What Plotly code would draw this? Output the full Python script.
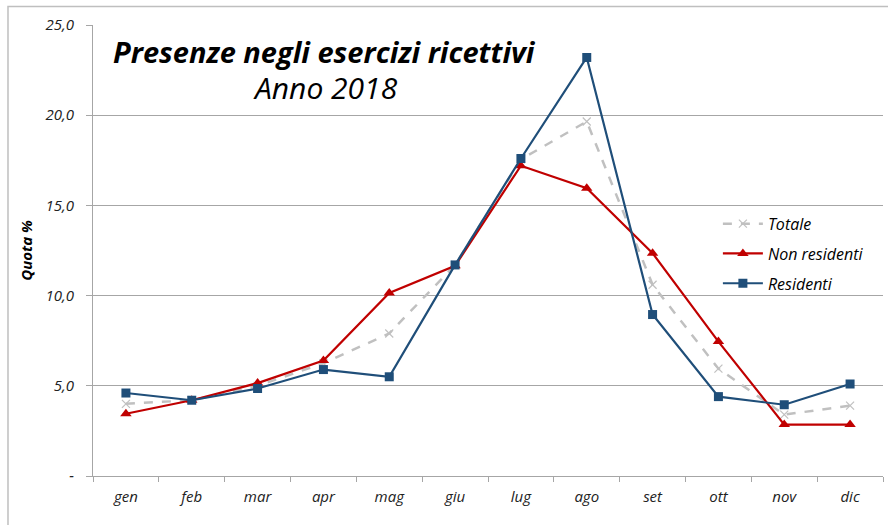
import plotly.graph_objects as go

months = ["gen", "feb", "mar", "apr", "mag", "giu", "lug", "ago", "set", "ott", "nov", "dic"]
totale = [4.0, 4.2, 5.0, 6.25, 7.9, 11.7, 17.55, 19.65, 10.6, 5.95, 3.4, 3.9]
non_residenti = [3.45, 4.2, 5.15, 6.4, 10.15, 11.65, 17.2, 15.95, 12.35, 7.45, 2.85, 2.85]
residenti = [4.6, 4.2, 4.85, 5.9, 5.5, 11.7, 17.6, 23.2, 8.95, 4.4, 3.95, 5.1]

y_tickvals = [0, 5, 10, 15, 20, 25]
y_ticktext = ["-", "5,0", "10,0", "15,0", "20,0", "25,0"]

FONT = "Open Sans"
GRID = "#a6a6a6"

fig = go.Figure()
fig.add_trace(go.Scatter(
    x=months, y=totale, name="Totale", mode="lines+markers", legendgroup="t",
    line=dict(color="#c0c0c0", width=2.5, dash="dash"),
    marker=dict(symbol="x-thin", size=8, line=dict(color="#c0c0c0", width=1.2)),
))
fig.add_trace(go.Scatter(
    x=months, y=non_residenti, name="Non residenti", mode="lines+markers", legendgroup="n",
    line=dict(color="#c00000", width=2.2),
    marker=dict(symbol="triangle-up", size=10, color="#c00000"),
))
fig.add_trace(go.Scatter(
    x=months, y=residenti, name="Residenti", mode="lines+markers", legendgroup="r",
    line=dict(color="#1f4e79", width=2.2),
    marker=dict(symbol="square", size=9, color="#1f4e79"),
))

fig.update_layout(
    width=888, height=525,
    margin=dict(l=93, r=5, t=25, b=49),
    paper_bgcolor="white", plot_bgcolor="white",
    font=dict(family=FONT, color="#000000"),
    showlegend=True,
    legend=dict(
        x=0.791, y=0.597, xanchor="left", yanchor="top",
        font=dict(family=FONT, size=16, style="italic"),
        bgcolor="rgba(255,255,255,0)", tracegroupgap=6,
        itemwidth=40,
    ),
    xaxis=dict(
        type="category", range=[-0.5, 11.5],
        tickson="boundaries", ticks="outside", ticklen=5, tickcolor=GRID,
        showline=True, linecolor=GRID, linewidth=1,
        showgrid=False, ticklabelstandoff=7,
        tickfont=dict(family=FONT, size=15, style="italic", color="#222222"),
    ),
    yaxis=dict(
        range=[0, 25], tickvals=y_tickvals, ticktext=y_ticktext,
        ticks="outside", ticklen=6, tickcolor=GRID,
        showline=True, linecolor=GRID, linewidth=1,
        showgrid=True, gridcolor=GRID, gridwidth=1,
        zeroline=False, ticklabelstandoff=9,
        tickfont=dict(family=FONT, size=15, style="italic", color="#222222"),
        title=dict(text="<b>Quota %</b>", font=dict(family=FONT, size=15, style="italic"),
                   standoff=9),
    ),
    shapes=[
        dict(type="rect", xref="paper", yref="paper",
             x0=-0.1076, x1=1.01, y0=-0.2, y1=1.041,
             line=dict(color="#bfbfbf", width=1.5), layer="below"),
    ],
    annotations=[
        dict(text="<b><i>Presenze negli esercizi ricettivi</i></b>", xref="paper", yref="paper",
             x=0.023, y=0.941, xanchor="left", yanchor="middle", showarrow=False,
             font=dict(family=FONT, size=29, color="#000000")),
        dict(text="<i>Anno 2018</i>", xref="paper", yref="paper",
             x=0.2937, y=0.861, xanchor="center", yanchor="middle", showarrow=False,
             font=dict(family=FONT, size=30, color="#000000")),
    ],
)

fig.write_html("out.html", config={"displayModeBar": False},
               post_script="document.body.style.margin='0';document.body.style.overflow='hidden';")
